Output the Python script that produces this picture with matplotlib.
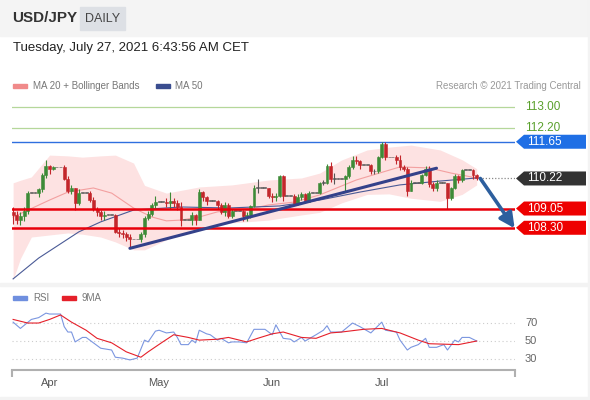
import numpy as np
import matplotlib
matplotlib.use("Agg")
import matplotlib.pyplot as plt
from matplotlib.patches import Rectangle, Polygon

plt.rcParams['font.family'] = ['Liberation Sans', 'DejaVu Sans']

# daily candles, 22 Mar 2021 (idx 0) .. 27 Jul 2021 (idx 127), weekends flat
first_open = 108.90
closes = [108.80, 108.60, 108.75, 108.95, 109.65, 109.65, 109.65,
          109.80, 110.35, 110.70, 110.60, 110.65, 110.65, 110.65,
          110.20, 109.75, 109.85, 109.25, 109.65, 109.65, 109.65,
          109.40, 109.05, 108.90, 108.75, 108.80, 108.80, 108.80,
          108.15, 108.10, 108.05, 107.95, 107.85, 107.85, 107.85,
          108.05, 108.70, 108.85, 109.20, 109.30, 109.30, 109.30,
          109.25, 109.35, 109.25, 109.10, 108.60, 108.60, 108.60,
          108.80, 108.60, 109.70, 109.50, 109.35, 109.35, 109.35,
          109.20, 108.90, 109.20, 108.75, 108.95, 108.95, 108.95,
          108.75, 108.80, 109.15, 109.85, 109.85, 109.85, 109.85,
          109.55, 109.50, 109.55, 110.30, 109.55, 109.55, 109.55,
          109.25, 109.50, 109.60, 109.30, 109.65, 109.65, 109.65,
          110.05, 110.05, 110.70, 110.20, 110.20, 110.20, 110.20,
          110.30, 110.65, 110.95, 110.90, 110.75, 110.75, 110.75,
          110.50, 110.50, 111.05, 111.55, 111.05, 111.05, 111.05,
          110.95, 110.65, 110.60, 109.75, 110.05, 110.05, 110.05,
          110.35, 110.60, 110.00, 109.85, 110.05, 110.05, 110.05,
          109.45, 109.85, 110.30, 110.15, 110.55, 110.55, 110.55,
          110.35, 110.22]
highs = [109.10, 108.95, 108.90, 109.10, 109.75, 109.65, 109.65,
         109.85, 110.45, 110.95, 110.75, 110.70, 110.65, 110.65,
         110.75, 110.30, 109.95, 109.85, 109.80, 109.65, 109.65,
         109.75, 109.50, 109.10, 109.00, 108.95, 108.80, 108.80,
         108.85, 108.30, 108.20, 108.15, 108.05, 107.85, 107.85,
         108.15, 108.75, 108.95, 109.25, 109.55, 109.30, 109.30,
         109.45, 109.70, 109.45, 109.40, 109.30, 108.60, 108.60,
         108.90, 108.85, 109.80, 109.75, 109.55, 109.35, 109.35,
         109.40, 109.25, 109.30, 109.25, 109.05, 108.95, 108.95,
         109.00, 108.90, 109.20, 109.95, 110.20, 109.85, 109.85,
         109.85, 109.65, 109.65, 110.35, 110.35, 109.55, 109.55,
         109.60, 109.60, 109.70, 109.65, 109.75, 109.65, 109.65,
         110.10, 110.15, 110.80, 110.85, 110.45, 110.20, 110.20,
         110.35, 110.75, 111.10, 111.10, 110.95, 110.75, 110.75,
         110.80, 110.60, 111.10, 111.65, 111.65, 111.05, 111.05,
         111.15, 111.15, 110.75, 110.65, 110.15, 110.05, 110.05,
         110.40, 110.70, 110.70, 110.10, 110.15, 110.05, 110.05,
         110.05, 109.90, 110.40, 110.35, 110.60, 110.55, 110.55,
         110.60, 110.40]
lows = [108.45, 108.45, 108.40, 108.55, 108.85, 109.65, 109.65,
        109.50, 109.70, 110.25, 110.40, 110.55, 110.65, 110.65,
        110.15, 109.65, 109.60, 109.00, 109.20, 109.65, 109.65,
        109.30, 108.95, 108.75, 108.60, 108.60, 108.80, 108.80,
        108.10, 107.95, 107.90, 107.80, 107.50, 107.85, 107.85,
        107.75, 107.95, 108.60, 108.75, 109.05, 109.30, 109.30,
        109.10, 109.05, 109.10, 109.00, 108.35, 108.60, 108.60,
        108.40, 108.40, 108.60, 109.35, 109.20, 109.35, 109.35,
        109.05, 108.85, 108.75, 108.70, 108.70, 108.95, 108.95,
        108.55, 108.55, 108.70, 109.10, 109.65, 109.85, 109.85,
        109.45, 109.30, 109.35, 109.50, 109.35, 109.55, 109.55,
        109.20, 109.20, 109.40, 109.25, 109.30, 109.65, 109.65,
        109.60, 109.95, 110.00, 110.10, 110.00, 110.20, 110.20,
        109.70, 110.25, 110.60, 110.80, 110.60, 110.75, 110.75,
        110.40, 110.40, 110.45, 111.00, 110.95, 111.05, 111.05,
        110.80, 110.55, 110.50, 109.55, 109.75, 110.05, 110.05,
        110.00, 110.30, 109.90, 109.75, 109.75, 110.05, 110.05,
        109.05, 109.40, 109.80, 110.05, 110.10, 110.55, 110.55,
        110.20, 110.15]

bb_idx = [0, 2, 5, 10, 15, 19, 24, 28, 33, 36, 42, 51, 60, 70, 79, 84, 90, 97, 103, 109, 117, 123, 127]
bb_up = [110.05, 110.15, 110.28, 111.13, 111.10, 111.05, 111.10, 111.13, 110.82, 109.95, 109.65, 109.89,
         109.97, 110.16, 110.24, 110.43, 110.94, 111.33, 111.44, 111.52, 111.33, 110.95, 110.60]
bb_low = [106.27, 107.10, 107.94, 108.02, 108.10, 108.05, 107.94, 107.75, 107.44, 107.44, 107.83, 108.33,
          108.49, 108.60, 108.80, 108.90, 109.27, 109.60, 109.62, 109.45, 109.33, 109.60, 109.97]
ma20_idx = [0, 10, 15, 22, 27, 33, 38, 42, 46, 51, 56, 60, 66, 70, 77, 84, 94, 106, 114, 120, 127]
ma20 = [108.72, 109.38, 109.69, 109.85, 109.65, 109.07, 108.72, 108.57, 108.60, 108.72, 108.92, 108.99,
        109.07, 109.19, 109.30, 109.58, 110.16, 110.67, 110.63, 110.43, 110.24]
ma50_idx = [0, 7, 18, 24, 33, 46, 59, 73, 84, 95, 106, 117, 127]
ma50 = [106.31, 107.12, 108.14, 108.53, 108.99, 109.11, 109.07, 109.15, 109.38, 109.69, 109.97, 110.12, 110.24]

rsi_idx = [0, 2, 5, 7, 9, 10, 13, 14, 15, 16, 17, 19, 20, 22, 24, 27, 28, 30, 32, 34, 36, 37, 39, 40, 42,
           44, 45, 46, 48, 49, 50, 51, 53, 54, 56, 57, 59, 60, 62, 64, 66, 69, 71, 72, 74, 76, 77, 79, 80,
           83, 85, 86, 87, 90, 93, 95, 98, 101, 102, 105, 106, 108, 109, 111, 113, 114, 116, 118, 119, 121,
           122, 123, 125, 127]
rsi = [71, 64, 74, 76, 81, 80, 80, 66, 60, 60, 49, 54, 54, 48, 42, 40, 32, 31, 29, 31, 51, 49, 61, 62, 59,
       60, 54, 46, 46, 51, 48, 62, 58, 57, 51, 53, 48, 49, 49, 48, 63, 63, 57, 68, 53, 52, 49, 54, 50,
       57, 62, 67, 60, 60, 70, 66, 59, 71, 62, 60, 51, 40, 43, 46, 53, 43, 43, 46, 40, 51,
       49, 54, 54, 50]
ma9_idx = [0, 4, 7, 10, 13, 16, 20, 23, 27, 31, 35, 37, 41, 44, 48, 51, 56, 59, 64, 67, 71, 74, 79, 83,
           87, 90, 96, 101, 106, 111, 114, 122, 127]
ma9 = [74, 70, 70, 74, 79, 71, 62, 53, 48, 38, 32, 38, 49, 57, 54, 51, 52, 54, 49, 53, 58, 60, 54, 53,
       59, 60, 63, 64, 59, 51, 47, 46, 50]

month_labels = ['Apr', 'May', 'Jun', 'Jul']
month_idx = [10, 40, 71, 101]

resistances = [113.00, 112.20]
pivot = 111.65
supports = [109.05, 108.30]
last_price = 110.22
trend_idx = [32, 116]
trend_val = [107.50, 110.62]
arrow_from = (128, 110.22)
arrow_to = (137.4, 108.28)

W, H = 590, 400
fig = plt.figure(figsize=(W / 100, H / 100), dpi=100)
fig.patch.set_facecolor('white')

def fx(px):
    return px / W

def fy(py):
    return 1 - py / H

# header
fig.patches.append(Rectangle((0, fy(36)), 1, 36 / H, transform=fig.transFigure, color='#f4f4f4', zorder=0))
fig.patches.append(Rectangle((fx(80), fy(30)), 45 / W, 23 / H, transform=fig.transFigure, color='#dde0e5', zorder=1))
fig.text(fx(12), fy(18), 'USD/JPY', fontsize=11, fontweight='bold', color='#333333', va='center')
fig.text(fx(102.5), fy(18.5), 'DAILY', fontsize=9, color='#444444', va='center', ha='center')
fig.text(fx(13), fy(48), 'Tuesday, July 27, 2021 6:43:56 AM CET', fontsize=9.5, color='#222222', va='center')

# legend row
fig.patches.append(Rectangle((fx(13), fy(88)), 14 / W, 4 / H, transform=fig.transFigure, color='#f08a8a'))
fig.text(fx(33), fy(86), 'MA 20 + Bollinger Bands', fontsize=7, color='#777777', va='center')
fig.patches.append(Rectangle((fx(156), fy(88)), 14 / W, 4 / H, transform=fig.transFigure, color='#3a4d8f'))
fig.text(fx(175), fy(86), 'MA 50', fontsize=7, color='#777777', va='center')
fig.text(fx(581), fy(86), 'Research \u00a9 2021 Trading Central', fontsize=7, color='#999999', va='center', ha='right')

# panel separators / frame
fig.patches.append(Rectangle((0, fy(286)), 1, 3 / H, transform=fig.transFigure, color='#f3f3f3'))
fig.patches.append(Rectangle((0, 0), 1, 3 / H, transform=fig.transFigure, color='#f3f3f3'))
fig.patches.append(Rectangle((fx(588), 0), 2 / W, 1, transform=fig.transFigure, color='#f3f3f3'))

x_lo, x_hi = -0.3, 137.5
ax = fig.add_axes([fx(12), fy(283), 503 / W, (283 - 95) / H])
ax.set_xlim(x_lo, x_hi)
ax.set_ylim(106.15, 113.47)
ax.axis('off')

ax.fill_between(bb_idx, bb_low, bb_up, color='#fde2e2', lw=0, zorder=1)
ax.plot(ma20_idx, ma20, color='#f3a0a0', lw=0.8, zorder=2)
ax.plot(ma50_idx, ma50, color='#4a5a96', lw=0.8, zorder=2)

for r in resistances:
    ax.axhline(r, color='#b5d79a', lw=0.9, zorder=2)
ax.axhline(pivot, color='#2f6fdf', lw=1.0, zorder=2)
for s in supports:
    ax.axhline(s, color='#e8000b', lw=1.8, zorder=5)

days = np.arange(len(closes))
opens = np.array([first_open] + closes[:-1])
c = np.array(closes)
up = c > opens
flat = np.isclose(c, opens)
col = np.where(flat, '#555555', np.where(up, '#3d8b37', '#c3262b'))
ax.vlines(days, lows, highs, colors=col, lw=0.8, zorder=3)
body_lo = np.minimum(opens, c)
body_h = np.maximum(np.abs(c - opens), 0.025)
ax.bar(days, body_h, bottom=body_lo, width=0.8, color=col, edgecolor=col, lw=0.4, zorder=4)

ax.plot(trend_idx, trend_val, color='#34418a', lw=2.2, solid_capstyle='round', zorder=6)
ax.hlines(last_price, days[-1] + 0.6, x_hi, colors='#888888', linestyles=(0, (1, 1.5)), lw=0.9, zorder=2)
ax.annotate('', xy=arrow_to, xytext=arrow_from, annotation_clip=False,
            arrowprops=dict(arrowstyle='-|>,head_length=0.9,head_width=0.45', color='#2d5f9e', lw=2.6,
                            shrinkA=0, shrinkB=0),
            zorder=7)

# price labels
lab = fig.add_axes([fx(515), fy(283), 75 / W, (283 - 95) / H])
lab.set_xlim(0, 75)
lab.set_ylim(106.15, 113.47)
lab.axis('off')
hh = 7 / 25.7

def tag(val, color):
    pts = [(1, val), (9, val + hh), (71, val + hh), (71, val - hh), (9, val - hh)]
    lab.add_patch(Polygon(pts, closed=True, color=color, lw=0))
    lab.text(12, val, f'{val:.2f}', color='white', fontsize=8.5, va='center')

for r in resistances:
    lab.text(10, r, f'{r:.2f}', color='#5aa02c', fontsize=8.5, va='center')
tag(pivot, '#1f6fe5')
tag(last_price, '#333333')
for s in supports:
    tag(s, '#ee0000')

# RSI panel
ax2 = fig.add_axes([fx(12), fy(370), 503 / W, (370 - 290) / H])
ax2.set_xlim(x_lo, x_hi)
ax2.set_ylim(17.8, 106.7)
for side in ['top', 'right', 'left']:
    ax2.spines[side].set_visible(False)
ax2.spines['bottom'].set_color('#b0b0b0')
ax2.spines['bottom'].set_linewidth(1.5)
ax2.set_yticks([])
ax2.set_xticks(month_idx)
ax2.set_xticklabels(month_labels, fontsize=8, color='#555555')
ax2.tick_params(axis='x', length=0, pad=6)
ax2.set_xticks([x_lo, x_hi], minor=True)
ax2.tick_params(axis='x', which='minor', length=5, width=1.5, color='#b0b0b0')
for lvl in [70, 50, 30]:
    ax2.axhline(lvl, color='#cccccc', lw=0.8, linestyle=(0, (1, 2.5)), zorder=1)
ax2.plot(rsi_idx, rsi, color='#7b96e0', lw=0.8, zorder=3)
ax2.plot(ma9_idx, ma9, color='#e5202a', lw=0.8, zorder=4)

lab2 = fig.add_axes([fx(515), fy(370), 75 / W, (370 - 290) / H])
lab2.set_xlim(0, 75)
lab2.set_ylim(17.8, 106.7)
lab2.axis('off')
for lvl in [70, 50, 30]:
    lab2.text(10, lvl, str(lvl), color='#666666', fontsize=8, va='center')

fig.patches.append(Rectangle((fx(13), fy(300)), 14 / W, 4 / H, transform=fig.transFigure, color='#6f8fdf'))
fig.text(fx(33), fy(298), 'RSI', fontsize=7, color='#777777', va='center')
fig.patches.append(Rectangle((fx(62), fy(300)), 14 / W, 4 / H, transform=fig.transFigure, color='#e5202a'))
fig.text(fx(82), fy(298), '9MA', fontsize=7, color='#777777', va='center')

fig.savefig('out.png', dpi=100)
